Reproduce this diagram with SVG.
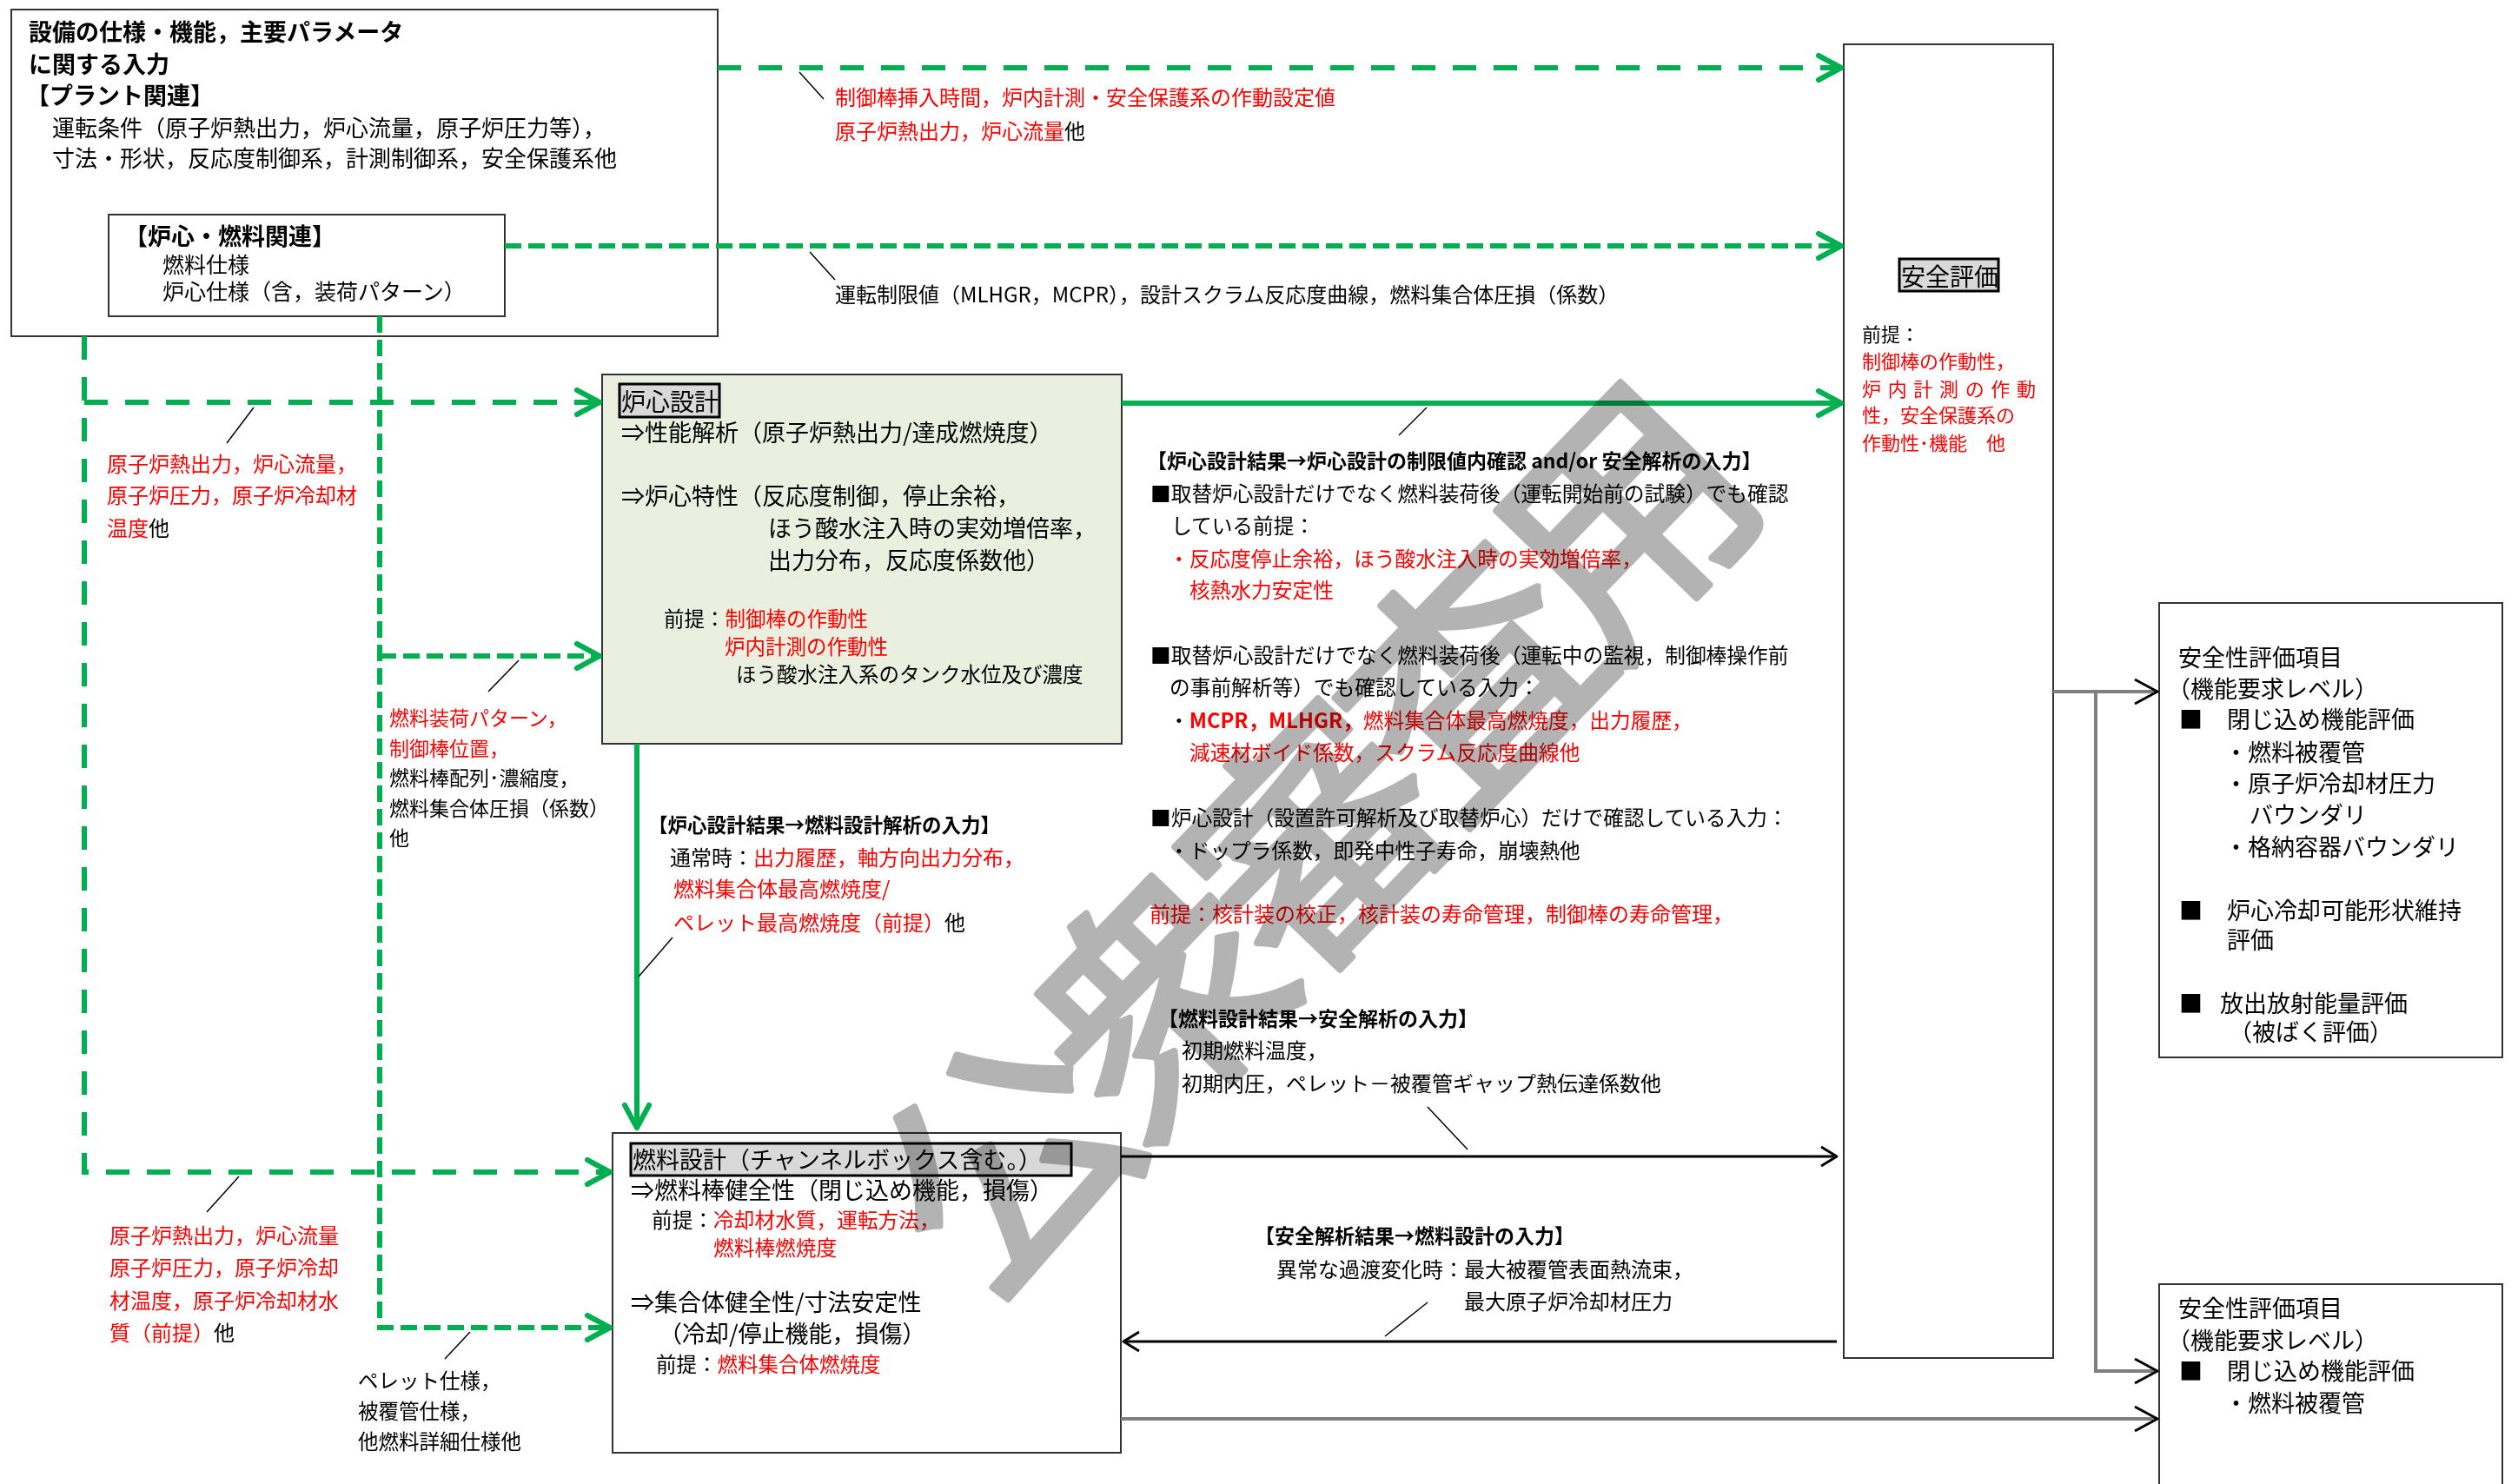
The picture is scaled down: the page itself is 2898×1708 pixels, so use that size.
<svg xmlns="http://www.w3.org/2000/svg" width="2898" height="1708" viewBox="0 0 2898 1708">
<style>
text{font-family:"Noto Sans CJK JP","Noto Sans",sans-serif;fill:#000}
.b{font-weight:700}
.r{fill:#ff0000}
.box{fill:#fff;stroke:#333;stroke-width:2}
.lbl{fill:#d9d9d9;stroke:#000;stroke-width:3}
.gl{fill:none;stroke:#00b050;stroke-width:6;stroke-dasharray:27 20}
.gs{fill:none;stroke:#00b050;stroke-width:6;stroke-dasharray:19 8}
.gsol{fill:none;stroke:#00b050;stroke-width:6}
.bk{fill:none;stroke:#000;stroke-width:3}
.gr{fill:none;stroke:#7f7f7f;stroke-width:4}
.ld{fill:none;stroke:#000;stroke-width:1.5}
</style>
<defs>
<marker id="ag" markerUnits="userSpaceOnUse" markerWidth="40" markerHeight="40" refX="29" refY="16" orient="auto" overflow="visible"><path d="M3,2 L29,16 L3,30" fill="none" stroke="#00b050" stroke-width="6" stroke-linecap="round" stroke-linejoin="round"/></marker>
<marker id="ab" markerUnits="userSpaceOnUse" markerWidth="30" markerHeight="30" refX="19" refY="12" orient="auto" overflow="visible"><path d="M1,1 L19,12 L1,23" fill="none" stroke="#000" stroke-width="3" stroke-linejoin="round"/></marker>
<marker id="abl" markerUnits="userSpaceOnUse" markerWidth="40" markerHeight="40" refX="27" refY="15" orient="auto" overflow="visible"><path d="M1,1 L27,15 L1,29" fill="none" stroke="#000" stroke-width="3" stroke-linejoin="round"/></marker>
</defs>
<rect x="0" y="0" width="2898" height="1708" fill="#fff"/>

<g id="n-input">
<rect class="box" x="13" y="11" width="813" height="376"/>
<text class="b" x="33" y="47" font-size="27">設備の仕様・機能，主要パラメータ</text>
<text class="b" x="33" y="84" font-size="27">に関する入力</text>
<text class="b" x="30" y="120" font-size="27">【プラント関連】</text>
<text x="60" y="157" font-size="26">運転条件（原子炉熱出力，炉心流量，原子炉圧力等），</text>
<text x="60" y="192" font-size="26">寸法・形状，反応度制御系，計測制御系，安全保護系他</text>
<rect class="box" x="125" y="247" width="456" height="117"/>
<text class="b" x="143" y="282" font-size="27">【炉心・燃料関連】</text>
<text x="187" y="314" font-size="25">燃料仕様</text>
<text x="187" y="345" font-size="25">炉心仕様（含，装荷パターン）</text>
</g>

<g id="n-core">
<rect x="693" y="431" width="598" height="425" fill="#ebefdf" stroke="#333" stroke-width="2"/>
<rect class="lbl" x="713" y="442" width="115" height="38"/>
<text x="715" y="473" font-size="28">炉心設計</text>
<text x="715" y="508" font-size="27">⇒性能解析（原子炉熱出力/達成燃焼度）</text>
<text x="715" y="581" font-size="27">⇒炉心特性（反応度制御，停止余裕，</text>
<text x="884" y="618" font-size="27">ほう酸水注入時の実効増倍率，</text>
<text x="884" y="655" font-size="27">出力分布，反応度係数他）</text>
<text x="764" y="721" font-size="23.5">前提：<tspan class="r">制御棒の作動性</tspan></text>
<text class="r" x="834" y="753" font-size="23.5">炉内計測の作動性</text>
<text x="847" y="785" font-size="23.5">ほう酸水注入系のタンク水位及び濃度</text>
</g>

<g id="n-fuel">
<rect class="box" x="705" y="1304" width="585" height="368"/>
<rect class="lbl" x="726" y="1316" width="507" height="37"/>
<text x="728" y="1345" font-size="27">燃料設計（チャンネルボックス含む。）</text>
<text x="726" y="1380" font-size="27">⇒燃料棒健全性（閉じ込め機能，損傷）</text>
<text x="750" y="1413" font-size="23.7">前提：<tspan class="r">冷却材水質，運転方法，</tspan></text>
<text class="r" x="821" y="1445" font-size="23.7">燃料棒燃焼度</text>
<text x="726" y="1509" font-size="27">⇒集合体健全性/寸法安定性</text>
<text x="758" y="1545" font-size="27">（冷却/停止機能，損傷）</text>
<text x="755" y="1579" font-size="23.5">前提：<tspan class="r">燃料集合体燃焼度</tspan></text>
</g>

<g id="n-safety">
<rect class="box" x="2122" y="51" width="241" height="1512"/>
<rect class="lbl" x="2186" y="298" width="114" height="37"/>
<text x="2188" y="329" font-size="28">安全評価</text>
<text x="2143" y="393" font-size="22">前提：</text>
<text class="r" x="2143" y="424" font-size="22">制御棒の作動性，</text>
<text class="r" x="2143" y="456" font-size="22" textLength="200" lengthAdjust="spacing">炉内計測の作動</text>
<text class="r" x="2143" y="486" font-size="22">性，安全保護系の</text>
<text class="r" x="2143" y="518" font-size="22">作動性･機能　他</text>
</g>

<g id="n-eval1">
<rect class="box" x="2485" y="694" width="395" height="523"/>
<text x="2507" y="767" font-size="27">安全性評価項目</text>
<text x="2494" y="803" font-size="27">（機能要求レベル）</text>
<text x="2508" y="838" font-size="27">■</text><text x="2563" y="838" font-size="27">閉じ込め機能評価</text>
<text x="2560" y="876" font-size="27">・燃料被覆管</text>
<text x="2560" y="912" font-size="27">・原子炉冷却材圧力</text>
<text x="2589" y="948" font-size="27">バウンダリ</text>
<text x="2560" y="985" font-size="27">・格納容器バウンダリ</text>
<text x="2508" y="1058" font-size="27">■</text><text x="2563" y="1058" font-size="27">炉心冷却可能形状維持</text>
<text x="2563" y="1092" font-size="27">評価</text>
<text x="2508" y="1165" font-size="27">■</text><text x="2555" y="1165" font-size="27">放出放射能量評価</text>
<text x="2565" y="1198" font-size="27">（被ばく評価）</text>
</g>

<g id="n-eval2">
<rect class="box" x="2485" y="1478" width="395" height="250"/>
<text x="2507" y="1516" font-size="27">安全性評価項目</text>
<text x="2494" y="1553" font-size="27">（機能要求レベル）</text>
<text x="2508" y="1588" font-size="27">■</text><text x="2563" y="1588" font-size="27">閉じ込め機能評価</text>
<text x="2560" y="1625" font-size="27">・燃料被覆管</text>
</g>

<g id="connectors">
<path class="gl" d="M826,78 H2119" marker-end="url(#ag)"/>
<path class="gs" d="M581,283 H2119" marker-end="url(#ag)"/>
<path class="gl" d="M97,387 V1349 H702" marker-end="url(#ag)"/>
<path class="gl" d="M97,463 H690" marker-end="url(#ag)"/>
<path class="gs" d="M437,364 V1528 H702" marker-end="url(#ag)"/>
<path class="gs" d="M437,755 H690" marker-end="url(#ag)"/>
<path class="gsol" d="M1291,464 H2119" marker-end="url(#ag)"/>
<path class="gsol" d="M733,856 V1298" marker-end="url(#ag)"/>
<path class="bk" d="M1290,1331 H2114" marker-end="url(#ab)"/>
<path class="bk" d="M2114,1544 H1293" marker-end="url(#ab)"/>
<path class="gr" d="M2363,796 H2483" marker-end="url(#abl)"/>
<path class="gr" d="M2412,796 V1578 H2483" marker-end="url(#abl)"/>
<path class="gr" d="M1290,1633 H2483" marker-end="url(#abl)"/>
<path class="ld" d="M920,83 L948,114"/>
<path class="ld" d="M932,290 L961,322"/>
<path class="ld" d="M292,469 L261,510"/>
<path class="ld" d="M597,760 L562,796"/>
<path class="ld" d="M1642,469 L1610,501"/>
<path class="ld" d="M774,1079 L735,1124"/>
<path class="ld" d="M1643,1274 L1689,1323"/>
<path class="ld" d="M1643,1499 L1594,1538"/>
<path class="ld" d="M275,1354 L238,1395"/>
<path class="ld" d="M541,1533 L512,1564"/>
</g>

<g id="labels">
<text class="r" x="961" y="121" font-size="24">制御棒挿入時間，炉内計測・安全保護系の作動設定値</text>
<text x="961" y="160" font-size="24"><tspan class="r">原子炉熱出力，炉心流量</tspan>他</text>
<text x="961" y="348" font-size="24">運転制限値（MLHGR，MCPR），設計スクラム反応度曲線，燃料集合体圧損（係数）</text>

<text class="r" x="123" y="543" font-size="24">原子炉熱出力，炉心流量，</text>
<text class="r" x="123" y="579" font-size="24">原子炉圧力，原子炉冷却材</text>
<text x="123" y="617" font-size="24"><tspan class="r">温度</tspan>他</text>

<text class="r" x="448" y="835" font-size="23">燃料装荷パターン，</text>
<text class="r" x="448" y="870" font-size="23">制御棒位置，</text>
<text x="448" y="904" font-size="23">燃料棒配列･濃縮度，</text>
<text x="448" y="939" font-size="23">燃料集合体圧損（係数）</text>
<text x="448" y="973" font-size="23">他</text>

<text class="b" x="746" y="958" font-size="22.5">【炉心設計結果→燃料設計解析の入力】</text>
<text x="771" y="996" font-size="24">通常時：<tspan class="r">出力履歴，軸方向出力分布，</tspan></text>
<text class="r" x="775" y="1032" font-size="24">燃料集合体最高燃焼度/</text>
<text x="775" y="1071" font-size="24"><tspan class="r">ペレット最高燃焼度（前提）</tspan>他</text>

<text class="b" x="1320" y="539" font-size="23">【炉心設計結果→炉心設計の制限値内確認 and/or 安全解析の入力】</text>
<text x="1324" y="577" font-size="23.7">■取替炉心設計だけでなく燃料装荷後（運転開始前の試験）でも確認</text>
<text x="1348" y="614" font-size="23.7">している前提：</text>
<text class="r" x="1345" y="652" font-size="23.7">・反応度停止余裕，ほう酸水注入時の実効増倍率，</text>
<text class="r" x="1369" y="688" font-size="23.7">核熱水力安定性</text>
<text x="1324" y="763" font-size="23.7">■取替炉心設計だけでなく燃料装荷後（運転中の監視，制御棒操作前</text>
<text x="1346" y="800" font-size="23.7">の事前解析等）でも確認している入力：</text>
<text x="1345" y="838" font-size="23.7">・<tspan class="r b">MCPR，MLHGR，</tspan><tspan class="r">燃料集合体最高燃焼度，出力履歴，</tspan></text>
<text class="r" x="1369" y="875" font-size="23.7">減速材ボイド係数，スクラム反応度曲線他</text>
<text x="1324" y="950" font-size="23.7">■炉心設計（設置許可解析及び取替炉心）だけで確認している入力：</text>
<text x="1345" y="988" font-size="23.7">・ドップラ係数，即発中性子寿命，崩壊熱他</text>
<text class="r" x="1323" y="1061" font-size="24">前提：核計装の校正，核計装の寿命管理，制御棒の寿命管理，</text>

<text class="b" x="1333" y="1181" font-size="23">【燃料設計結果→安全解析の入力】</text>
<text x="1360" y="1218" font-size="24">初期燃料温度，</text>
<text x="1360" y="1256" font-size="24">初期内圧，ペレット－被覆管ギャップ熱伝達係数他</text>

<text class="b" x="1444" y="1431" font-size="23">【安全解析結果→燃料設計の入力】</text>
<text x="1469" y="1470" font-size="24">異常な過渡変化時：最大被覆管表面熱流束，</text>
<text x="1685" y="1507" font-size="24">最大原子炉冷却材圧力</text>

<text class="r" x="126" y="1431" font-size="24">原子炉熱出力，炉心流量</text>
<text class="r" x="126" y="1468" font-size="24">原子炉圧力，原子炉冷却</text>
<text class="r" x="126" y="1506" font-size="24">材温度，原子炉冷却材水</text>
<text x="126" y="1543" font-size="24"><tspan class="r">質（前提）</tspan>他</text>

<text x="412" y="1598" font-size="23.5">ペレット仕様，</text>
<text x="412" y="1633" font-size="23.5">被覆管仕様，</text>
<text x="412" y="1668" font-size="23.5">他燃料詳細仕様他</text>
</g>

<g id="watermark" style="mix-blend-mode:multiply">
<text x="1492" y="961" font-size="280" letter-spacing="-23" text-anchor="middle" dominant-baseline="central" style="fill:#b3b3b3;stroke:#b3b3b3;stroke-width:8;stroke-linejoin:round" transform="rotate(-46 1492 961)">公衆審査用</text>
</g>
</svg>
